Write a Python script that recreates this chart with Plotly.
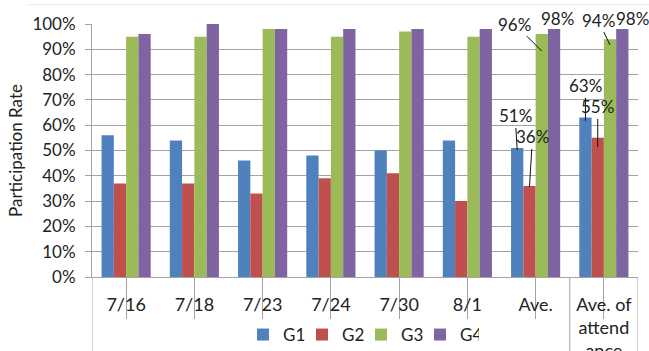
import plotly.graph_objects as go

categories = ["7/16", "7/18", "7/23", "7/24", "7/30", "8/1", "Ave.", "Ave. of<br>attend<br>ance"]
series_names = ["G1", "G2", "G3", "G4"]
g1 = [0.56, 0.54, 0.46, 0.48, 0.50, 0.54, 0.51, 0.63]
g2 = [0.37, 0.37, 0.33, 0.39, 0.41, 0.30, 0.36, 0.55]
g3 = [0.95, 0.95, 0.98, 0.95, 0.97, 0.95, 0.96, 0.94]
g4 = [0.96, 1.00, 0.98, 0.98, 0.98, 0.98, 0.98, 0.98]
colors = ["#4F81BD", "#C0504D", "#9BBB59", "#8064A2"]
y_ticks = [i / 10 for i in range(11)]

FONT = "Lato"
GRAY = "#a3a3a3"
TXT = "#222222"

series = [g1, g2, g3, g4]
fig = go.Figure()
for name, vals, col in zip(series_names, series, colors):
    fig.add_trace(go.Bar(x=list(range(len(categories))), y=vals, name=name,
                         marker=dict(color=col, line=dict(width=0))))

BARGAP = 0.28
bw = (1 - BARGAP) / 4
offs = [-1.5 * bw, -0.5 * bw, 0.5 * bw, 1.5 * bw]

# labelled bars: (category index, series index, dx, dy, inset, show_line)
labels = [
    (6, 0, -2, -34, 0.008, True),
    (6, 1, 3, -50, 0.004, True),
    (6, 2, -27, -27, 0.067, True),
    (6, 3, 3, 11, 0.0, False),
    (7, 0, 0, -35, 0.013, True),
    (7, 1, 0, -40, 0.036, True),
    (7, 2, -12, -25, 0.023, True),
    (7, 3, 10, 11, 0.0, False),
]
annotations = []
for ci, si, dx, dy, inset, line in labels:
    v = series[si][ci]
    txt = f"{round(v * 100)}%"
    if line:
        annotations.append(dict(x=ci + offs[si], y=v - inset, xref="x", yref="y", text=txt,
                                showarrow=True, arrowhead=0, arrowwidth=1, arrowcolor="#111",
                                ax=dx, ay=dy, font=dict(family=FONT, size=17, color=TXT)))
    else:
        annotations.append(dict(x=ci + offs[si], y=v, xref="x", yref="y", text=txt,
                                showarrow=False, xanchor="center", yanchor="middle",
                                xshift=dx, yshift=dy, font=dict(family=FONT, size=17, color=TXT)))

shapes = []
for xb in [-0.5, 6.5, 7.5]:
    shapes.append(dict(type="line", xref="x", yref="paper", x0=xb, x1=xb, y0=0, y1=-0.31,
                       line=dict(color=GRAY, width=1)))
shapes.append(dict(type="line", xref="paper", yref="paper", x0=-0.12, x1=1.03, y0=1.076, y1=1.076,
                   line=dict(color="#ececec", width=1)))

fig.update_layout(
    width=649, height=351,
    margin=dict(l=92, r=11, t=24, b=74, autoexpand=False),
    paper_bgcolor="white", plot_bgcolor="white",
    barmode="group", bargap=BARGAP, bargroupgap=0,
    font=dict(family=FONT, size=17, color=TXT),
    showlegend=True,
    legend=dict(orientation="h", xref="container", yref="container",
                x=361 / 649, xanchor="center", y=(351 - 335) / 351, yanchor="middle",
                font=dict(family=FONT, size=17, color=TXT), entrywidth=14,
                bgcolor="rgba(0,0,0,0)"),
    annotations=annotations,
    shapes=shapes,
)
fig.update_xaxes(
    tickmode="array", tickvals=list(range(len(categories))), ticktext=categories,
    range=[-0.5, len(categories) - 0.5], automargin=False,
    showline=True, linecolor=GRAY, linewidth=1,
    ticks="outside", ticklen=41, tickcolor=GRAY, tickwidth=1,
    showgrid=False, zeroline=False, ticklabelstandoff=-30,
    tickfont=dict(family=FONT, size=18, color=TXT),
)
fig.update_yaxes(
    range=[0, 1], tickvals=y_ticks, tickformat=".0%", automargin=False,
    showline=True, linecolor=GRAY, linewidth=1,
    ticks="outside", ticklen=6, tickcolor=GRAY,
    showgrid=True, gridcolor=GRAY, gridwidth=1, zeroline=False,
    ticklabelstandoff=6,
    tickfont=dict(family=FONT, size=17, color=TXT),
    title=dict(text="Participation Rate", font=dict(family=FONT, size=17, color=TXT), standoff=5),
)

fig.write_html("out.html")
